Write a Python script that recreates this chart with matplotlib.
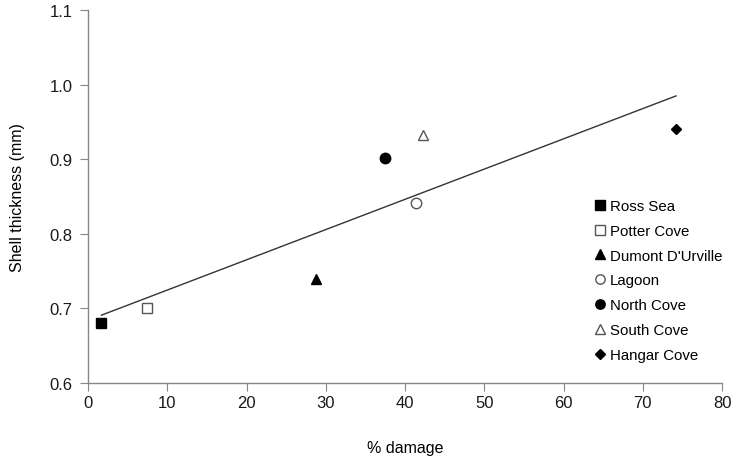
import numpy as np
import matplotlib
matplotlib.use("Agg")
import matplotlib.pyplot as plt

plt.rcParams['font.family'] = ['Liberation Sans', 'DejaVu Sans']

sites = ["Ross Sea", "Potter Cove", "Dumont D'Urville", "Lagoon", "North Cove", "South Cove", "Hangar Cove"]
damage = [1.7, 7.4, 28.8, 41.4, 37.5, 42.3, 74.2]
thickness = [0.680, 0.701, 0.739, 0.841, 0.901, 0.932, 0.940]
markers = ["s", "s", "^", "o", "o", "^", "D"]
filled = [True, False, True, False, True, False, True]
sizes = [7.5, 7.5, 7.5, 7.5, 7.5, 7.5, 5.5]

fig = plt.figure(figsize=(7.35, 4.6), dpi=100)
ax = fig.add_axes([88/735, 1 - 384/460, (722-88)/735, (384-11)/460])

# trend line (least squares)
slope, intercept = np.polyfit(damage, thickness, 1)
xs = np.array([min(damage), max(damage)])
ax.plot(xs, slope*xs + intercept, color="#333333", lw=1.0, zorder=1)

for name, x, y, m, f, s in zip(sites, damage, thickness, markers, filled, sizes):
    ax.plot([x], [y], linestyle="none", marker=m, markersize=s,
            markerfacecolor="black" if f else "white",
            markeredgecolor="black" if f else "#555555",
            markeredgewidth=1.0, label=name, zorder=3)

ax.set_xlim(0, 80)
ax.set_ylim(0.6, 1.1)
ax.set_xticks(np.arange(0, 81, 10))
ax.set_yticks(np.arange(0.6, 1.101, 0.1))
ax.set_yticklabels([f"{v:.1f}" for v in np.arange(0.6, 1.101, 0.1)])
for sp in ["top", "right"]:
    ax.spines[sp].set_visible(False)
for sp in ["left", "bottom"]:
    ax.spines[sp].set_color("#868686")
    ax.spines[sp].set_linewidth(1.0)
ax.tick_params(axis="both", direction="out", length=6, color="#868686",
               labelsize=12, labelcolor="#1a1a1a")
ax.tick_params(axis="x", pad=3)
ax.tick_params(axis="y", pad=5)

ax.set_xlabel("% damage", fontsize=11.5, labelpad=21)
ax.set_ylabel("Shell thickness (mm)", fontsize=11.5, labelpad=18)

leg = ax.legend(loc="upper left", bbox_to_anchor=(595/735, 1 - 200/460),
                bbox_transform=fig.transFigure, frameon=False, fontsize=10.8,
                handlelength=0.6, handletextpad=0.4, labelspacing=0.72,
                borderpad=0, borderaxespad=0, markerscale=0.9)

fig.savefig("out.png", dpi=100)
